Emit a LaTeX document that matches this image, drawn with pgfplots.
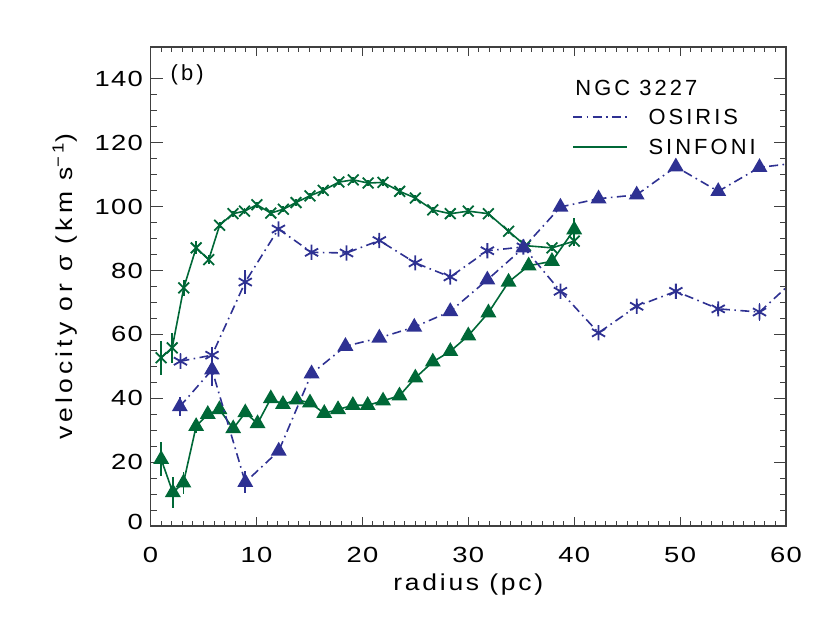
\documentclass[border=0pt,11pt]{standalone}
\usepackage{pgfplots}
\pgfplotsset{compat=1.18}
\usepackage{fontspec}
\setmainfont{Liberation Sans}[LetterSpace=14]
\newfontfamily\tickfont{Liberation Sans}[FakeStretch=1.25, LetterSpace=6]
\newfontfamily\xlabfont{Liberation Sans}[FakeStretch=1.15, LetterSpace=12]
\newfontfamily\ylabfont{Liberation Sans}[FakeStretch=1.15, LetterSpace=18]

\definecolor{osiris}{RGB}{46,49,146}
\definecolor{sinfoni}{RGB}{0,104,55}

\begin{document}
\begin{tikzpicture}
\useasboundingbox (-75.3pt,-48.5pt) rectangle (339.7pt,263pt);
\begin{axis}[
  scale only axis,
  width=317.7pt, height=239.5pt,
  xmin=0, xmax=60, ymin=0, ymax=150,
  xtick={0,10,...,60},
  ytick={0,20,...,140},
  yticklabels={{\raisebox{4.5pt}{0}},20,40,60,80,100,120,140},
  minor x tick num=9,
  minor y tick num=3,
  tick align=inside,
  xtick style={/pgfplots/major tick length=4.5pt,/pgfplots/minor tick length=2.3pt},
  ytick style={/pgfplots/major tick length=6pt,/pgfplots/minor tick length=3pt},
  axis line style={black!75, line width=0.6pt},
  every tick/.style={black!75, line width=0.5pt},
  /pgf/number format/assume math mode=true,
  tick label style={font=\tickfont},
  xticklabel style={yshift=-7pt},
  xlabel={radius (pc)},
  ylabel={velocity or σ (km s\textsuperscript{−1})},
  xlabel style={at={(axis description cs:0.5,-0.123)}, anchor=center, font=\fontsize{11.5}{14}\xlabfont},
  ylabel style={at={(axis description cs:-0.135,0.5)}, anchor=center, font=\fontsize{11.5}{14}\ylabfont},
  clip marker paths=true,
  error bars/error bar style={solid, line width=0.9pt},
]
% SINFONI sigma
\addplot[sinfoni, line width=0.8pt, mark=x, mark size=3.8pt, mark options={solid, line width=0.9pt},
  error bars/.cd, y dir=both, y explicit, error mark=none]
  table[x=x, y=y, y error=e] {
x y e
1.0 52.7 5.3
2.04 55.8 4.6
3.13 74.6 2.5
4.3 87.1 2.0
5.49 83.4 1.5
6.52 94.2 1.0
7.78 97.8 1.0
8.87 98.6 1.0
10.04 100.6 1.0
11.35 98.0 1.0
12.54 99.2 1.0
13.73 101.3 1.0
15.05 103.4 1.0
16.3 105.1 1.0
17.78 107.7 1.0
19.13 108.4 1.0
20.54 107.4 1.0
21.95 107.6 1.0
23.52 104.8 1.0
25.0 102.7 1.0
26.65 99.0 1.0
28.3 97.8 1.0
30.0 98.6 1.0
31.9 97.8 1.0
33.8 92.3 1.0
35.4 87.8 1.0
37.9 87.1 1.0
40.0 89.2 1.5
};
% SINFONI velocity
\addplot[sinfoni, line width=0.8pt, mark=triangle*, mark size=3.8pt, mark options={solid},
  error bars/.cd, y dir=both, y explicit, error mark=none]
  table[x=x, y=y, y error=e] {
x y e
1.0 20.9 5.3
2.1 10.5 4.9
3.1 13.5 3.5
4.3 31.2 2.0
5.4 35.0 1.5
6.5 36.5 1.0
7.8 30.5 1.0
8.94 35.5 1.0
10.1 32.1 1.0
11.35 39.9 1.0
12.5 38.1 1.0
13.8 39.5 1.0
15.05 38.6 1.0
16.4 35.3 1.0
17.7 36.5 1.0
19.1 37.8 1.0
20.5 37.8 1.0
21.95 39.2 1.0
23.5 40.8 1.0
25.0 46.4 1.0
26.65 51.4 1.0
28.3 54.7 1.0
30.0 59.6 1.0
31.9 66.8 1.0
33.8 76.4 1.0
35.7 81.5 1.0
37.9 82.9 1.0
40.0 92.8 3.5
};
% OSIRIS sigma
\addplot[osiris, line width=0.8pt, dash pattern=on 4.5pt off 2.2pt on 0.8pt off 2.2pt,
  mark=asterisk, mark size=3.8pt, mark options={solid, line width=0.9pt},
  error bars/.cd, y dir=both, y explicit, error mark=none]
  table[x=x, y=y, y error=e] {
x y e
2.82 51.6 2.5
5.8 53.5 2.5
8.94 76.4 3.8
12.07 93.0 1.5
15.2 85.7 1.0
18.5 85.5 1.0
21.6 89.4 1.0
25.0 82.4 1.0
28.3 78.0 1.0
31.8 86.2 1.0
35.2 87.4 1.0
38.7 73.5 1.0
42.3 60.5 1.0
45.9 68.8 1.0
49.6 73.5 1.5
53.6 68.0 1.5
57.5 67.0 2.8
61.3 78.6 1.0
};
% OSIRIS velocity
\addplot[osiris, line width=0.8pt, dash pattern=on 4.5pt off 2.2pt on 0.8pt off 2.2pt,
  mark=triangle*, mark size=3.8pt, mark options={solid},
  error bars/.cd, y dir=both, y explicit, error mark=none]
  table[x=x, y=y, y error=e] {
x y e
2.76 37.4 3.0
5.8 48.9 5.0
8.94 13.7 3.5
12.1 23.5 1.0
15.2 47.7 1.0
18.4 56.3 1.0
21.6 58.9 1.0
24.9 62.3 1.0
28.3 67.2 1.0
31.8 77.1 1.0
35.2 87.1 1.0
38.7 99.9 1.0
42.3 102.5 1.0
45.9 103.7 1.0
49.6 112.5 1.0
53.6 104.8 1.0
57.5 112.3 1.0
61.3 113.8 1.0
};
% annotations
\node[anchor=west, inner sep=0pt] at (rel axis cs:0.031,0.942) {(b)};
\node[anchor=west, inner sep=0pt] at (rel axis cs:0.668,0.914) {NGC 3227};
\draw[osiris, line width=0.8pt, dash pattern=on 4.5pt off 2.2pt on 0.8pt off 2.2pt]
  (rel axis cs:0.665,0.854) -- (rel axis cs:0.75,0.854);
\node[anchor=west, inner sep=0pt] at (rel axis cs:0.783,0.854) {OSIRIS};
\draw[sinfoni, line width=0.8pt] (rel axis cs:0.665,0.791) -- (rel axis cs:0.75,0.791);
\node[anchor=west, inner sep=0pt] at (rel axis cs:0.783,0.791) {SINFONI};
\end{axis}
\end{tikzpicture}
\end{document}
